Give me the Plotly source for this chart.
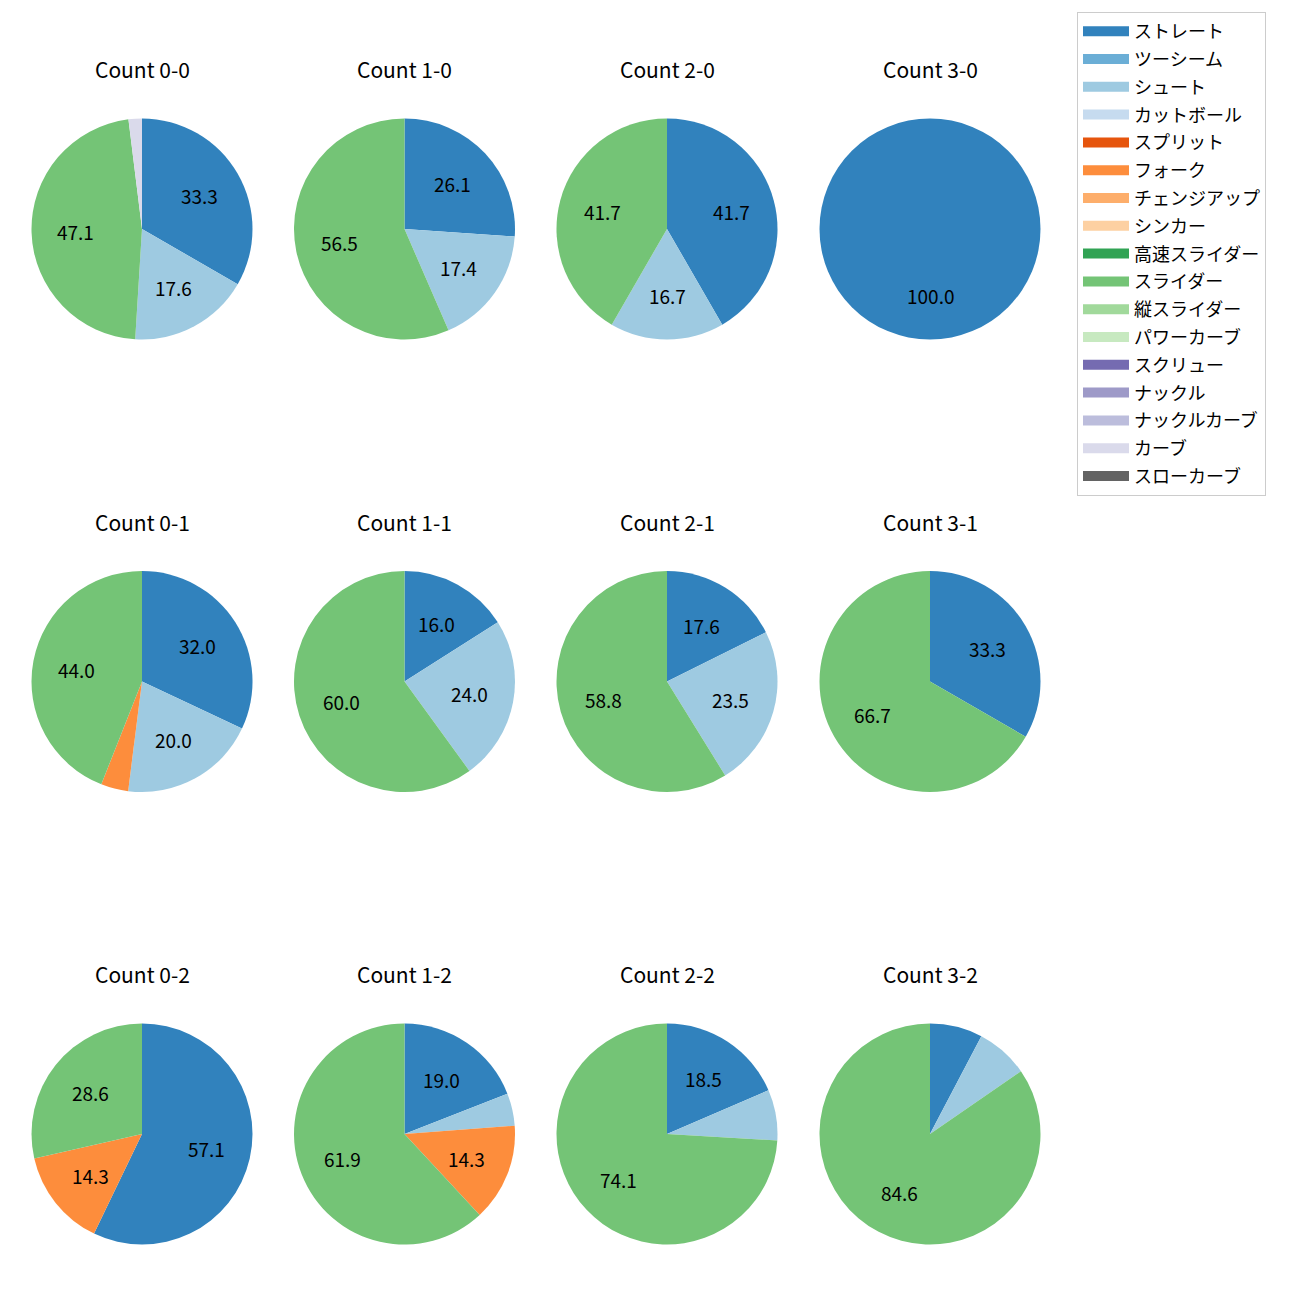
import math
import plotly.graph_objects as go

# ---- data ----
pitch_types = ["ストレート", "ツーシーム", "シュート", "カットボール", "スプリット", "フォーク",
               "チェンジアップ", "シンカー", "高速スライダー", "スライダー", "縦スライダー",
               "パワーカーブ", "スクリュー", "ナックル", "ナックルカーブ", "カーブ", "スローカーブ"]
pitch_colors = ["#3182bd", "#6baed6", "#9ecae1", "#c6dbef", "#e6550d", "#fd8d3c",
                "#fdae6b", "#fdd0a2", "#31a354", "#74c476", "#a1d99b", "#c7e9c0",
                "#756bb1", "#9e9ac8", "#bcbddc", "#dadaeb", "#636363"]
count_labels = ["0-0", "1-0", "2-0", "3-0",
                "0-1", "1-1", "2-1", "3-1",
                "0-2", "1-2", "2-2", "3-2"]
straight = [17, 6, 5, 1, 8, 4, 3, 1, 4, 4, 5, 1]
shoot = [9, 4, 2, 0, 5, 6, 4, 0, 0, 1, 2, 1]
fork = [0, 0, 0, 0, 1, 0, 0, 0, 1, 3, 0, 0]
slider = [24, 13, 5, 0, 11, 15, 10, 2, 2, 13, 20, 11]
curve = [1, 0, 0, 0, 0, 0, 0, 0, 0, 0, 0, 0]
series = {"ストレート": straight, "シュート": shoot, "フォーク": fork,
          "スライダー": slider, "カーブ": curve}

# ---- layout constants (figure pixels; page has an 8px body margin) ----
W = H = 1300
col_x = [134, 396.5, 659, 922]
row_y = [221, 673.5, 1126]
R = 110.5
FONT = "Noto Sans CJK JP"
LABEL_MIN = 10.0

fig = go.Figure()
annotations = []
for i, cl in enumerate(count_labels):
    r, c = divmod(i, 4)
    cx, cy = col_x[c], row_y[r]
    vals = [series[p][i] if p in series else 0 for p in pitch_types]
    fig.add_trace(go.Pie(
        labels=pitch_types, values=vals,
        marker=dict(colors=pitch_colors, line=dict(width=0)),
        sort=False, direction="clockwise", rotation=0,
        textinfo="none", showlegend=False,
        domain=dict(x=[(cx - R) / W, (cx + R) / W],
                    y=[1 - (cy + R) / H, 1 - (cy - R) / H]),
        hovertemplate="%{label}: %{percent}<extra>Count " + cl + "</extra>",
    ))
    annotations.append(dict(
        text="Count " + cl, x=cx / W, y=1 - (cy - 160) / H,
        xref="paper", yref="paper", showarrow=False,
        xanchor="center", yanchor="middle",
        font=dict(family=FONT, size=21, color="black")))
    total = sum(vals)
    cum = 0.0
    for v in vals:
        if v <= 0:
            continue
        pct = v / total * 100
        mid = (cum + v / 2) / total * 2 * math.pi
        cum += v
        if pct < LABEL_MIN:
            continue
        tx = cx + 0.6 * R * math.sin(mid)
        ty = cy - 0.6 * R * math.cos(mid)
        annotations.append(dict(
            text=f"{pct:.1f}", x=tx / W, y=1 - ty / H,
            xref="paper", yref="paper", showarrow=False,
            xanchor="center", yanchor="middle",
            font=dict(family=FONT, size=19, color="black")))

# legend entries
for k, (p, col) in enumerate(zip(pitch_types, pitch_colors)):
    fig.add_trace(go.Scatter(
        x=[None], y=[None], mode="lines", name=p,
        line=dict(color=col, width=14),
        legendgroup=f"g{k}", showlegend=True, hoverinfo="skip"))

fig.update_layout(
    width=W, height=H,
    margin=dict(l=0, r=0, t=0, b=0),
    paper_bgcolor="white", plot_bgcolor="white",
    xaxis=dict(visible=False), yaxis=dict(visible=False),
    annotations=annotations,
    legend=dict(
        x=1069 / W, y=1 - 4 / H, xanchor="left", yanchor="top",
        font=dict(family=FONT, size=18, color="black"),
        bordercolor="#cccccc", borderwidth=1, bgcolor="white",
        tracegroupgap=1.4, itemwidth=46),
    font=dict(family=FONT),
)

fig.write_html("out.html")
